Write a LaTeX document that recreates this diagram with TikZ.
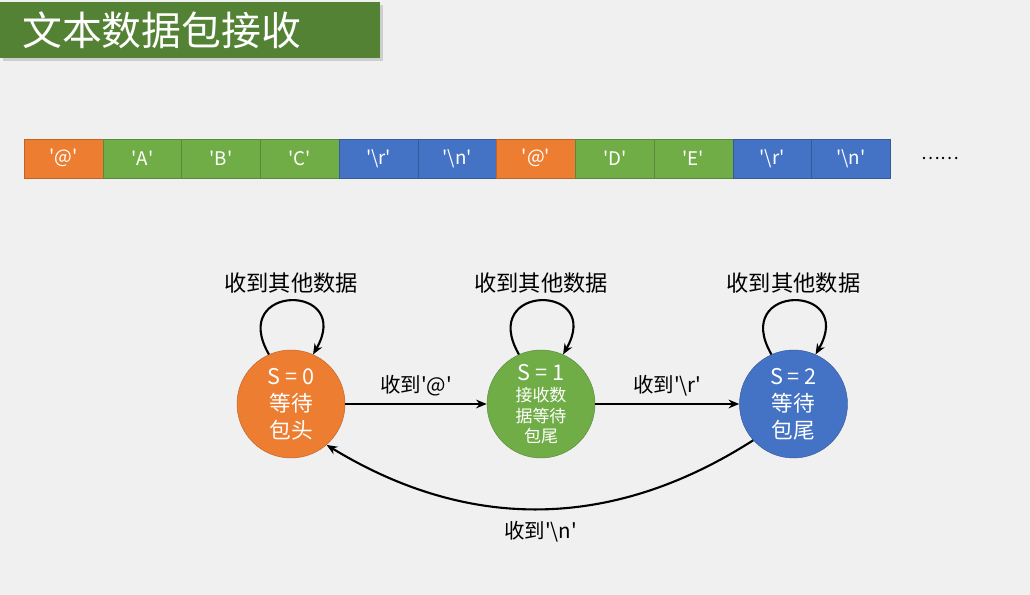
\documentclass[tikz,border=0pt]{standalone}
\usepackage{fontspec}
\setmainfont{Noto Sans CJK SC}
\usetikzlibrary{positioning, arrows.meta, shadows}
\definecolor{sfondo}{HTML}{F0F0F0}
\definecolor{titolocol}{HTML}{548235}
\definecolor{arancio}{HTML}{ED7D31}
\definecolor{verde}{HTML}{70AD47}
\definecolor{blu}{HTML}{4472C4}
\newcommand{\car}[1]{\textquotesingle#1\textquotesingle}
\tikzset{
	>={Stealth[length=3.2mm, width=2.6mm]},
	% banda del titolo
	titolo/.style={fill=titolocol, text=white, anchor=north west, minimum width=11.4cm, minimum height=1.68cm,
	               inner xsep=0.66cm, text width=10.08cm, align=left, font=\fontsize{34}{38}\selectfont,
	               drop shadow={opacity=0.3, shadow xshift=2pt, shadow yshift=-2pt}},
	% cella del pacchetto
	cella/.style={draw=#1!80!black, thin, fill=#1, text=white, anchor=south west, minimum width=2.362cm,
	              minimum height=1.17cm, font=\fontsize{16}{18}\selectfont},
	% stato della FSM
	stato/.style={circle, draw=#1!80!black, thin, fill=#1, text=white, minimum size=3.24cm, inner sep=0pt,
	              align=center, font=\fontsize{18.5}{23}\selectfont},
	% transizione
	freccia/.style={->, line width=1.8pt},
	etichetta/.style={font=\fontsize{17.5}{20}\selectfont, inner sep=2pt},
}

\begin{document}
\begin{tikzpicture}[x=0.03cm, y=0.03cm]
    \fill[sfondo] (0,0) rectangle (1030,595);
    \useasboundingbox (0,0) rectangle (1030,595);
    \node[titolo] (banda) at (0,593) {文本数据包接收};
    % pacchetti
    \foreach \col/\txt [count=\i from 0] in {arancio/@, verde/A, verde/B, verde/C, blu/\textbackslash r, blu/\textbackslash n,
                                             arancio/@, verde/D, verde/E, blu/\textbackslash r, blu/\textbackslash n}
      \node[cella=\col] (c\i) at ({24+78.73*\i},417) {\car{\txt}};
    \node[font=\fontsize{15}{18}\selectfont] (altro) at (940,436.5) {……};
    % stati
    \node[stato=arancio] (s0) at (291,191) {S = 0\\ 等待\\ 包头};
    \node[stato=verde, font=\fontsize{14.5}{17.5}\selectfont] (s1) at (541,191)
      {{\fontsize{18.5}{20}\selectfont S = 1}\\[1pt] 接收数\\ 据等待\\ 包尾};
    \node[stato=blu] (s2) at (793.5,191) {S = 2\\ 等待\\ 包尾};
    \foreach \s in {s0, s1, s2}
      \draw[freccia] (\s.114) to[out=120, in=60, looseness=4.8]
        node[above=2pt, font=\fontsize{19}{22}\selectfont] {收到其他数据} (\s.66);
    \draw[freccia] (s0) -- node[etichetta, above=4pt] {收到\car{@}} (s1);
    \draw[freccia] (s1) -- node[etichetta, above=4pt] {收到\car{\textbackslash r}} (s2);
    \draw[freccia] (s2.222) to[bend left=32] node[etichetta, below=8pt] {收到\car{\textbackslash n}} (s0.311);
\end{tikzpicture}
\end{document}
